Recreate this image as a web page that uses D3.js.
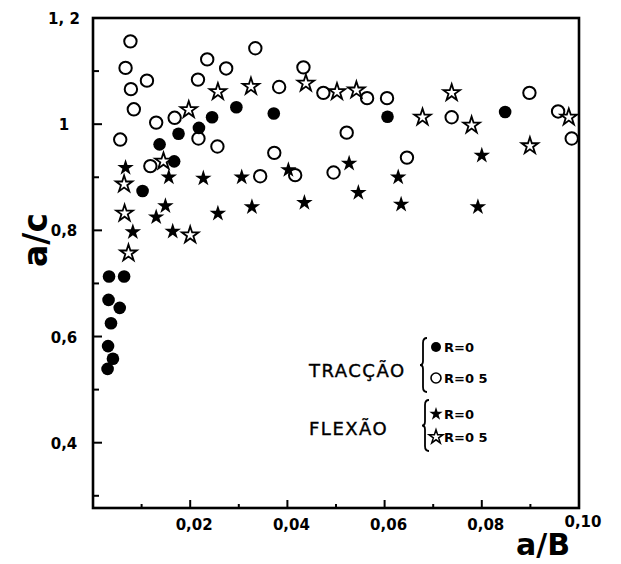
<!DOCTYPE html>
<html>
<head>
<meta charset="utf-8">
<script src="https://cdn.jsdelivr.net/npm/d3@7"></script>
<style>
  html, body { margin: 0; padding: 0; background: #fff; }
  svg { display: block; }
</style>
</head>
<body>
<svg id="chart" width="621" height="564"></svg>
<script>
// ---- data (a/B , a/c) ----
const tracR0 = [[0.0033,0.713],[0.0064,0.713],[0.0032,0.669],[0.0055,0.654],[0.0037,0.625],[0.0031,0.582],[0.0041,0.558],[0.0030,0.539],[0.0102,0.874],[0.0137,0.962],[0.0167,0.930],[0.0176,0.982],[0.0218,0.993],[0.0245,1.013],[0.0295,1.032],[0.0372,1.020],[0.0606,1.014],[0.0848,1.023]];
const tracR05 = [[0.0077,1.156],[0.0067,1.106],[0.0111,1.082],[0.0078,1.066],[0.0084,1.028],[0.0130,1.003],[0.0168,1.012],[0.0056,0.971],[0.0216,1.084],[0.0235,1.122],[0.0274,1.105],[0.0334,1.143],[0.0217,0.973],[0.0256,0.958],[0.0118,0.921],[0.0344,0.902],[0.0373,0.946],[0.0383,1.070],[0.0433,1.107],[0.0474,1.059],[0.0564,1.049],[0.0605,1.049],[0.0522,0.984],[0.0646,0.937],[0.0416,0.904],[0.0495,0.909],[0.0738,1.013],[0.0898,1.059],[0.0957,1.024],[0.0985,0.973]];
const flexR0 = [[0.0067,0.918],[0.0156,0.900],[0.0227,0.898],[0.0306,0.900],[0.0149,0.846],[0.0130,0.825],[0.0257,0.832],[0.0327,0.844],[0.0082,0.797],[0.0164,0.798],[0.0402,0.914],[0.0527,0.926],[0.0628,0.900],[0.0800,0.941],[0.0435,0.852],[0.0546,0.871],[0.0634,0.849],[0.0792,0.844]];
const flexR05 = [[0.0197,1.027],[0.0257,1.061],[0.0325,1.071],[0.0145,0.930],[0.0064,0.887],[0.0065,0.832],[0.0200,0.791],[0.0073,0.757],[0.0438,1.077],[0.0502,1.061],[0.0542,1.064],[0.0678,1.013],[0.0738,1.059],[0.0779,0.998],[0.0899,0.959],[0.0979,1.013]];

const xMajorTicks = [0.02, 0.04, 0.06, 0.08, 0.10];
const xMajorLabels = ["0,02", "0,04", "0,06", "0,08", "0,10"];
const xMinorTicks = [0.01, 0.03, 0.05, 0.07, 0.09];
const yMajorTicks = [1.2, 1.0, 0.8, 0.6, 0.4];
const yMajorLabels = ["1, 2", "1", "0,8", "0,6", "0,4"];
const yMinorTicks = [1.1, 0.9, 0.7, 0.5, 0.3];
const groupNames = ["TRACÇÃO", "FLEXÃO"];
const legendLabels = ["R=0", "R=0 5", "R=0", "R=0 5"];

// ---- layout ----
const L = 93, R = 579, T = 18, B = 508;
const svg = d3.select("#chart");
const x = d3.scaleLinear().domain([0, 0.10]).range([L, R]);
const y = d3.scaleLinear().domain([0.277, 1.2]).range([B, T]);

const font = "'DejaVu Sans', sans-serif";

// frame
svg.append("rect").attr("x", L).attr("y", T).attr("width", R - L).attr("height", B - T)
  .attr("fill", "none").attr("stroke", "#000").attr("stroke-width", 2.6);

// x ticks (inward)
svg.append("g").selectAll("line").data(xMajorTicks.slice(0, 4)).join("line")
  .attr("x1", d => x(d)).attr("x2", d => x(d)).attr("y1", B).attr("y2", B - 8)
  .attr("stroke", "#000").attr("stroke-width", 2);
svg.append("g").selectAll("line").data(xMinorTicks).join("line")
  .attr("x1", d => x(d)).attr("x2", d => x(d)).attr("y1", B).attr("y2", B - 4)
  .attr("stroke", "#000").attr("stroke-width", 2);
svg.append("g").selectAll("text").data(xMajorTicks).join("text")
  .attr("x", d => x(d) + 4).attr("y", (d, i) => B + (i === 4 ? 19 : 22))
  .attr("text-anchor", "middle").attr("font-family", font).attr("font-weight", "bold")
  .attr("font-size", 15).text((d, i) => xMajorLabels[i]);

// y ticks (inward)
svg.append("g").selectAll("line").data(yMajorTicks.slice(1)).join("line")
  .attr("x1", L).attr("x2", L + 9).attr("y1", d => y(d)).attr("y2", d => y(d))
  .attr("stroke", "#000").attr("stroke-width", 2);
svg.append("g").selectAll("line").data(yMinorTicks).join("line")
  .attr("x1", L).attr("x2", L + 6).attr("y1", d => y(d)).attr("y2", d => y(d))
  .attr("stroke", "#000").attr("stroke-width", 2);
svg.append("g").selectAll("text").data(yMajorTicks).join("text")
  .attr("x", 64).attr("y", d => y(d) + 6)
  .attr("text-anchor", "middle").attr("font-family", font).attr("font-weight", "bold")
  .attr("font-size", 15).text((d, i) => yMajorLabels[i]);

// axis titles
svg.append("text").attr("transform", "translate(47,240) rotate(-90)")
  .attr("text-anchor", "middle").attr("font-family", font).attr("font-weight", "bold")
  .attr("font-size", 33).text("a/c");
svg.append("text").attr("x", 543).attr("y", 555)
  .attr("text-anchor", "middle").attr("font-family", font).attr("font-weight", "bold")
  .attr("font-size", 30).text("a/B");

// markers
const star = d3.symbol().type(d3.symbolStar).size(85);
const pts = svg.append("g");
pts.selectAll(".oc").data(tracR05).join("circle").attr("class", "oc")
  .attr("cx", d => x(d[0])).attr("cy", d => y(d[1])).attr("r", 6.2)
  .attr("fill", "#fff").attr("stroke", "#000").attr("stroke-width", 2);
pts.selectAll(".fc").data(tracR0).join("circle").attr("class", "fc")
  .attr("cx", d => x(d[0])).attr("cy", d => y(d[1])).attr("r", 6.3)
  .attr("fill", "#000");
pts.selectAll(".os").data(flexR05).join("path").attr("class", "os")
  .attr("d", star).attr("transform", d => `translate(${x(d[0])},${y(d[1])})`)
  .attr("fill", "#fff").attr("stroke", "#000").attr("stroke-width", 1.8);
pts.selectAll(".fs").data(flexR0).join("path").attr("class", "fs")
  .attr("d", star).attr("transform", d => `translate(${x(d[0])},${y(d[1])})`)
  .attr("fill", "#000");

// legend
const lg = svg.append("g");
lg.append("text").attr("x", 309).attr("y", 377).attr("font-family", font)
  .attr("font-size", 18).attr("letter-spacing", 1.5).attr("stroke", "#000").attr("stroke-width", 0.4)
  .text(groupNames[0]);
lg.append("text").attr("x", 309).attr("y", 435).attr("font-family", font)
  .attr("font-size", 18).attr("letter-spacing", 1.5).attr("stroke", "#000").attr("stroke-width", 0.4)
  .text(groupNames[1]);
function brace(x0, y0, y1) {
  const m = (y0 + y1) / 2;
  return `M${x0 + 4},${y0} Q${x0},${y0} ${x0},${y0 + 5} L${x0},${m - 4} Q${x0},${m} ${x0 - 3},${m} Q${x0},${m} ${x0},${m + 4} L${x0},${y1 - 5} Q${x0},${y1} ${x0 + 4},${y1}`;
}
lg.append("path").attr("d", brace(423, 338, 392)).attr("fill", "none").attr("stroke", "#000").attr("stroke-width", 1.8);
lg.append("path").attr("d", brace(425, 400, 451)).attr("fill", "none").attr("stroke", "#000").attr("stroke-width", 1.8);
const ly = [347, 378, 414, 437];
lg.append("circle").attr("cx", 436).attr("cy", ly[0]).attr("r", 5).attr("fill", "#000");
lg.append("circle").attr("cx", 436).attr("cy", ly[1]).attr("r", 5).attr("fill", "#fff").attr("stroke", "#000").attr("stroke-width", 1.6);
lg.append("path").attr("d", d3.symbol().type(d3.symbolStar).size(55)()).attr("transform", `translate(436,${ly[2]})`).attr("fill", "#000");
lg.append("path").attr("d", d3.symbol().type(d3.symbolStar).size(60)()).attr("transform", `translate(436,${ly[3]})`).attr("fill", "#fff").attr("stroke", "#000").attr("stroke-width", 1.5);
lg.selectAll(".ll").data(legendLabels).join("text").attr("class", "ll")
  .attr("x", 444).attr("y", (d, i) => ly[i] + 5)
  .attr("font-family", font).attr("font-weight", "bold").attr("font-size", 13)
  .text(d => d);
</script>
</body>
</html>
